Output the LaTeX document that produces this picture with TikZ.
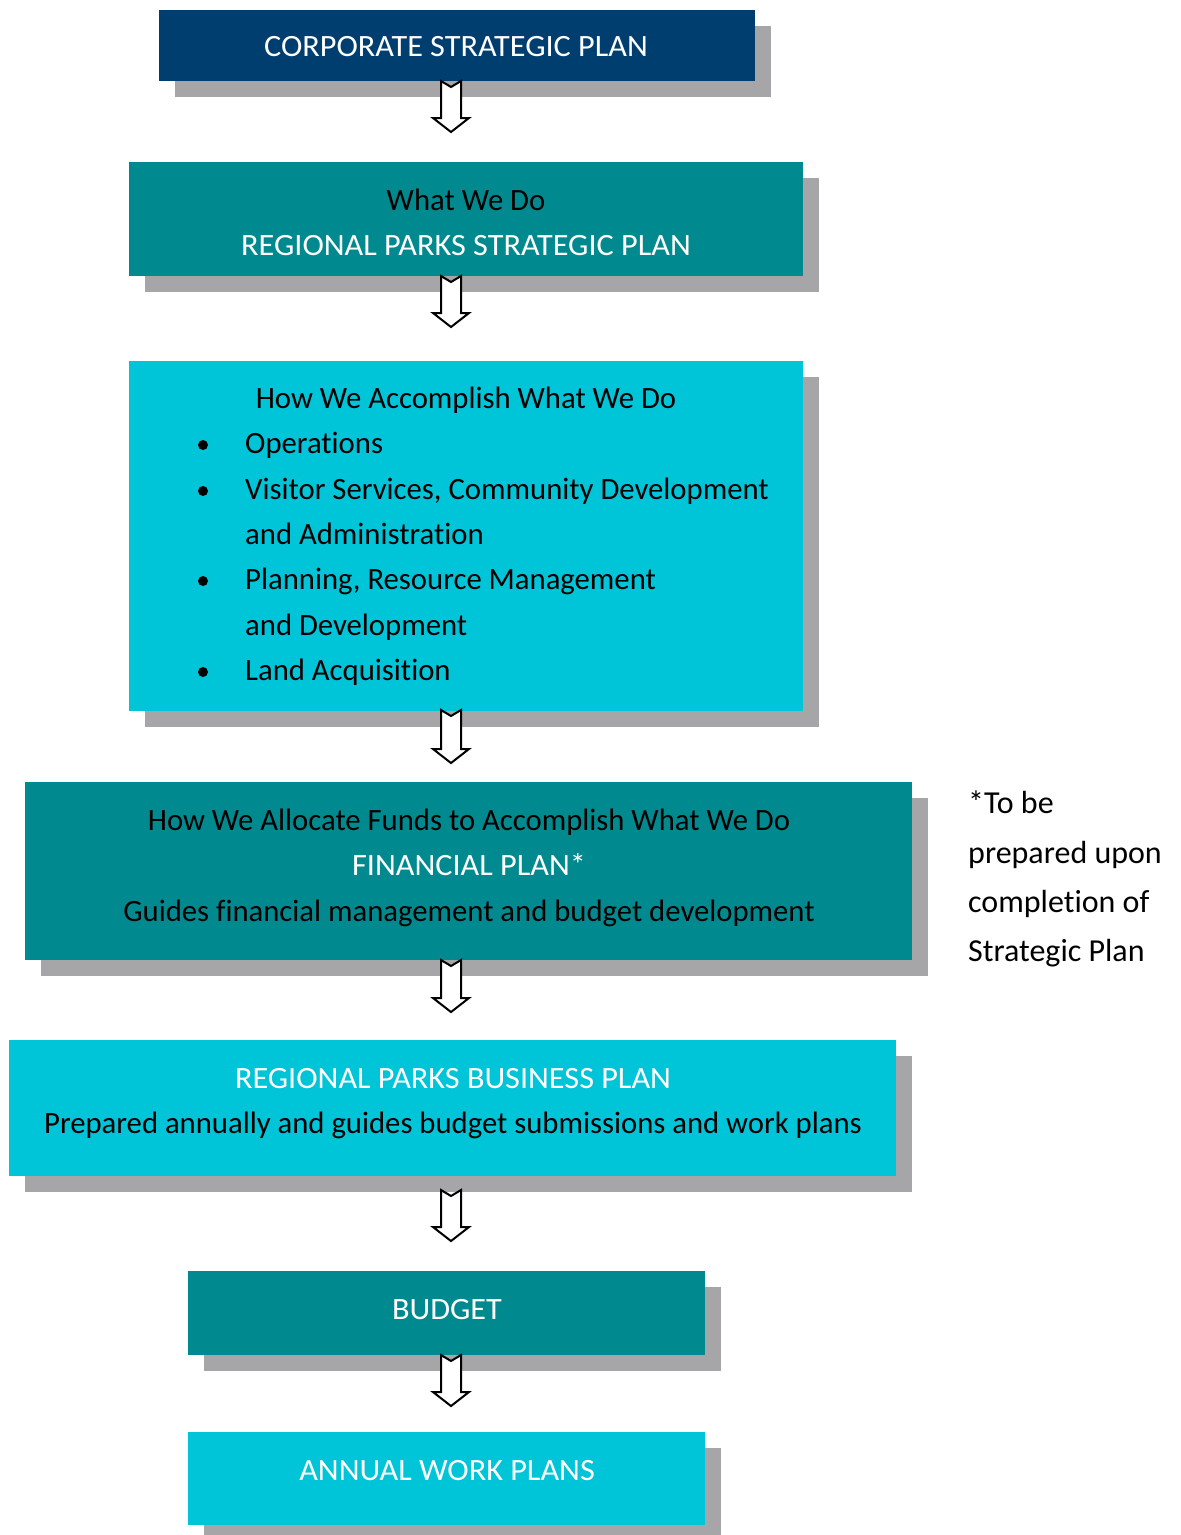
\documentclass[tikz,border=0pt]{standalone}
\usepackage{fontspec}
\setmainfont{Carlito}[FakeStretch=0.99, Ligatures={NoCommon}]
\newfontfamily\capfont{Carlito}[FakeStretch=1.04, Ligatures={NoCommon}]
\newfontfamily\notefont{Carlito}[Ligatures={NoCommon}]
\usetikzlibrary{shadows,calc}
\definecolor{navy}{HTML}{003E70}
\definecolor{tealbox}{HTML}{008A8F}
\definecolor{cyanbox}{HTML}{00C4D8}
\definecolor{shadowgray}{HTML}{A6A6A8}
\tikzset{
  box/.style={rectangle, draw=none, inner sep=0pt,
    copy shadow={shadow xshift=16pt, shadow yshift=-16pt, fill=shadowgray, draw=none}},
  txt/.style={anchor=base, inner sep=0pt, font=\fontsize{31}{37}\selectfont},
  wtxt/.style={anchor=base, inner sep=0pt, font=\capfont\fontsize{31}{37}\selectfont, text=white},
  btxt/.style={txt, text=black},
  ltxt/.style={btxt, anchor=base west},
  bulletdot/.style={circle, fill=black, inner sep=0pt, minimum size=10pt},
  notetxt/.style={anchor=base west, inner sep=0pt, font=\notefont\fontsize{32}{38}\selectfont},
  blockarrow/.style={draw=black, line width=2pt, fill=white, line join=miter}
}
\newcommand\dnarrow[2]{%
  \draw[blockarrow] ($(#1)+(-10,0)$) -- ($(#1)+(0,6)$) -- ($(#1)+(10,0)$)
    -- ($(#2)+(10,-14)$) -- ($(#2)+(18,-14)$) -- (#2) -- ($(#2)+(-18,-14)$)
    -- ($(#2)+(-10,-14)$) -- cycle;}
\begin{document}
\begin{tikzpicture}[x=1pt,y=-1pt]
\useasboundingbox[fill=white] (0,0) rectangle (1181,1535);
% boxes
\node[box, fill=navy, minimum width=596, minimum height=71] (b1) at (457,45) {};
\node[box, fill=tealbox, minimum width=674, minimum height=114] (b2) at (466,218.5) {};
\node[box, fill=cyanbox, minimum width=674, minimum height=350] (b3) at (466,535.5) {};
\node[box, fill=tealbox, minimum width=887, minimum height=178] (b4) at (468.5,870.5) {};
\node[box, fill=cyanbox, minimum width=887, minimum height=136] (b5) at (452.5,1107.5) {};
\node[box, fill=tealbox, minimum width=517, minimum height=84] (b6) at (446.5,1312.5) {};
\node[box, fill=cyanbox, minimum width=517, minimum height=93] (b7) at (446.5,1478) {};
% arrows
\coordinate (a1s) at (451,81);   \coordinate (a1e) at (451,132);
\coordinate (a2s) at (451,276);  \coordinate (a2e) at (451,327);
\coordinate (a3s) at (451,710);  \coordinate (a3e) at (451,763);
\coordinate (a4s) at (451,960);  \coordinate (a4e) at (451,1012);
\coordinate (a5s) at (451,1190); \coordinate (a5e) at (451,1241);
\coordinate (a6s) at (451,1355); \coordinate (a6e) at (451,1406);
\dnarrow{a1s}{a1e}
\dnarrow{a2s}{a2e}
\dnarrow{a3s}{a3e}
\dnarrow{a4s}{a4e}
\dnarrow{a5s}{a5e}
\dnarrow{a6s}{a6e}
% texts
\node[wtxt] (t1) at (456,56) {CORPORATE STRATEGIC PLAN};
\node[btxt] (t2a) at (466,210) {What We Do};
\node[wtxt] (t2b) at (466,255) {REGIONAL PARKS STRATEGIC PLAN};
\node[btxt] (t3a) at (466,408) {How We Accomplish What We Do};
\node[ltxt] (t3b) at (245,453) {Operations};
\node[ltxt] (t3c) at (245,499) {Visitor Services, Community Development};
\node[ltxt] (t3d) at (245,544) {and Administration};
\node[ltxt] (t3e) at (245,589) {Planning, Resource Management};
\node[ltxt] (t3f) at (245,635) {and Development};
\node[ltxt] (t3g) at (245,680) {Land Acquisition};
\node[bulletdot] (d1) at (203,445) {};
\node[bulletdot] (d2) at (203,491) {};
\node[bulletdot] (d3) at (203,581) {};
\node[bulletdot] (d4) at (203,672) {};
\node[btxt] (t4a) at (469,830) {How We Allocate Funds to Accomplish What We Do};
\node[wtxt] (t4b) at (469,875) {FINANCIAL PLAN*};
\node[btxt] (t4c) at (469,921) {Guides financial management and budget development};
\node[wtxt] (t5a) at (453,1088) {REGIONAL PARKS BUSINESS PLAN};
\node[btxt] (t5b) at (453,1133) {Prepared annually and guides budget submissions and work plans};
\node[wtxt] (t6) at (447,1319) {BUDGET};
\node[wtxt] (t7) at (447,1480) {ANNUAL WORK PLANS};
\node[notetxt] (n1) at (968,813) {*To be};
\node[notetxt] (n2) at (968,863) {prepared upon};
\node[notetxt] (n3) at (968,912) {completion of};
\node[notetxt] (n4) at (968,961) {Strategic Plan};
\end{tikzpicture}
\end{document}
